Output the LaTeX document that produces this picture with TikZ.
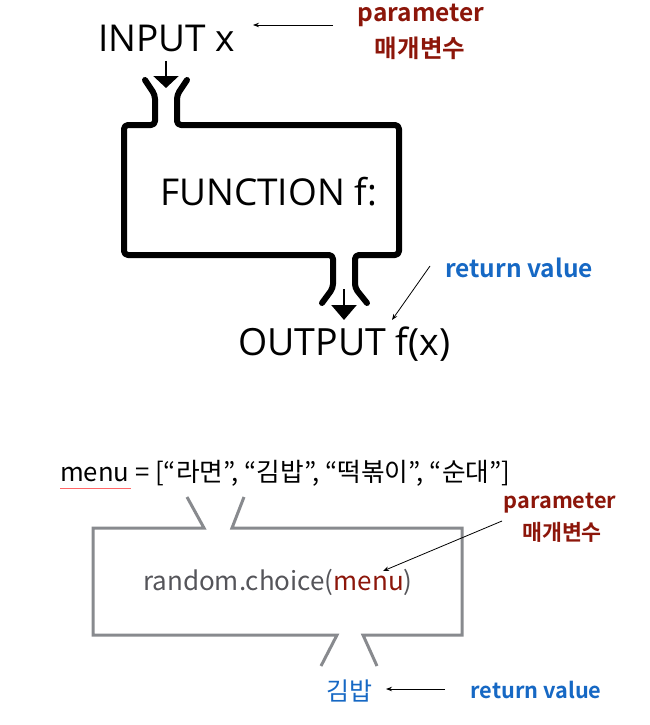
\documentclass[tikz,border=0pt]{standalone}
\usepackage{fontspec}
\setmainfont{Open Sans}
\newfontfamily\kr{Noto Sans CJK KR}
\newfontfamily\krb{Noto Sans CJK KR Bold}
\usetikzlibrary{arrows.meta}
\definecolor{pred}{RGB}{140,22,10}
\definecolor{rblue}{RGB}{22,104,196}
\definecolor{boxgray}{RGB}{136,138,142}
\definecolor{txtgray}{RGB}{85,85,90}
\begin{document}
\begin{tikzpicture}[x=1pt,y=-1pt,
  bigtext/.style={inner sep=0pt,anchor=base west,font=\fontsize{37}{40}\selectfont},
  lbl/.style={inner sep=0pt,font=\krb\fontsize{24.5}{27}\selectfont},
  slbl/.style={inner sep=0pt,font=\krb\fontsize{21.7}{25}\selectfont},
  thick box/.style={line width=6pt,line cap=round,line join=round,rounded corners=4pt},
  gray box/.style={line width=3pt,draw=boxgray,line join=miter},
  thin arrow/.style={line width=0.8pt,-{Stealth[length=6pt,width=4.5pt]}},
  fat arrow/.style={line width=2.5pt,-{Triangle[width=25pt,length=12pt]}}]
\useasboundingbox (0,0) rectangle (649,725);
% ---------- top diagram ----------
\node[bigtext] (in) at (98,52) {INPUT x};
\node[bigtext] (fn) at (160,205) {FUNCTION f:};
\node[bigtext,font=\fontsize{37.5}{40}\selectfont] (out) at (238,355) {OUTPUT f(x)};
\node[lbl,text=pred,anchor=base] (par1) at (421,22) {parameter};
\node[lbl,text=pred] (mg1) at (420,48) {매개변수};
\node[lbl,text=rblue,anchor=base] (ret1) at (519,277) {return value};
\draw[thick box] (145,80) -- (155,95) -- (155,125) -- (124,125) -- (124,255) -- (333,255) -- (333,288) -- (322,303);
\draw[thick box] (187,80) -- (177,95) -- (177,125) -- (399,125) -- (399,255) -- (355,255) -- (355,288) -- (367,303);
\coordinate (ia) at (166,61);
\coordinate (ib) at (166,88);
\draw[fat arrow] (ia) -- (ib);
\coordinate (oa) at (344,289);
\coordinate (ob) at (344,320);
\draw[fat arrow,-{Triangle[width=25pt,length=15pt]}] (oa) -- (ob);
\coordinate (p1a) at (333,25);
\coordinate (p1b) at (253,25);
\draw[thin arrow] (p1a) -- (p1b);
\coordinate (r1a) at (430,266);
\coordinate (r1b) at (392,320);
\draw[thin arrow] (r1a) -- (r1b);
% ---------- bottom diagram ----------
\node[inner sep=0pt,anchor=base west,font=\kr\fontsize{25.7}{30}\selectfont] (menu) at (60,481) {menu = [“라면”, “김밥”, “떡볶이”, “순대”]};
\draw[red!60,line width=0.4pt] (60,488) -- (131,488);
\draw[gray box] (187,497) -- (204,528) -- (93,528) -- (93,635) -- (337,635) -- (321,666);
\draw[gray box] (244,497) -- (232,528) -- (462,528) -- (462,635) -- (363,635) -- (377,666);
\node[inner sep=0pt,anchor=base west,font=\kr\fontsize{26}{30}\selectfont,text=txtgray] (rc) at (143,590) {random.choice(\textcolor{pred}{menu})};
\node[slbl,text=pred,anchor=base] (par2) at (560,508) {parameter};
\node[slbl,text=pred] (mg2) at (562,532) {매개변수};
\node[inner sep=0pt,font=\kr\fontsize{25}{28}\selectfont,text=rblue] (kb) at (349,691) {김밥};
\node[slbl,text=rblue] (ret2) at (536,690) {return value};
\coordinate (p2a) at (502,521);
\coordinate (p2b) at (383,571);
\draw[thin arrow] (p2a) -- (p2b);
\coordinate (r2a) at (445,689);
\coordinate (r2b) at (386,689);
\draw[thin arrow] (r2a) -- (r2b);
\end{tikzpicture}
\end{document}
